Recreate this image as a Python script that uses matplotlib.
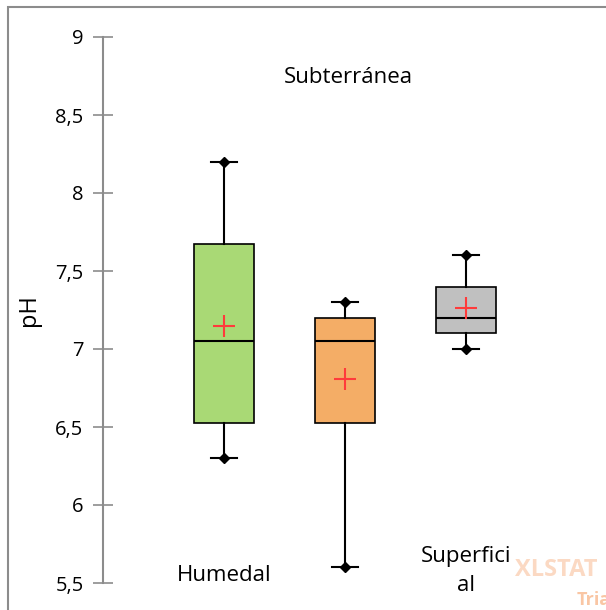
import matplotlib.pyplot as plt
from matplotlib.patches import Rectangle

# datos (pH por tipo de agua)
grupos = ["Humedal", "Subterránea", "Superficial"]
etiquetas = ["Humedal", "Subterránea", "Superfici\nal"]
minimos = [6.3, 5.6, 7.0]
q1 = [6.525, 6.525, 7.1]
medianas = [7.05, 7.05, 7.2]
q3 = [7.675, 7.2, 7.4]
maximos = [8.2, 7.3, 7.6]
medias = [7.15, 6.81, 7.26]
colores = ["#a9d975", "#f4ad66", "#c0c0c0"]

ticks_y = [5.5, 6, 6.5, 7, 7.5, 8, 8.5, 9]
ticks_txt = ["5,5", "6", "6,5", "7", "7,5", "8", "8,5", "9"]

plt.rcParams['font.family'] = ['Open Sans', 'DejaVu Sans']

fig = plt.figure(figsize=(6.06, 6.10), dpi=100)
ax = fig.add_axes([103 / 606, 27 / 610, 484 / 606, 546 / 610])

# borde gris del grafico
fig.patches.append(Rectangle((8 / 606, -0.05), 1.1, 603 / 610 + 0.05,
                             transform=fig.transFigure, fill=False,
                             edgecolor="#8c8c8c", linewidth=1.5))

stats = []
for i in range(len(grupos)):
    stats.append({"label": grupos[i], "whislo": minimos[i], "q1": q1[i],
                  "med": medianas[i], "q3": q3[i], "whishi": maximos[i],
                  "mean": medias[i]})

pos = [1, 2, 3]
bp = ax.bxp(stats, positions=pos, widths=0.5, patch_artist=True,
            showmeans=True, showfliers=False,
            boxprops=dict(edgecolor="black", linewidth=1.2),
            medianprops=dict(color="black", linewidth=1.5),
            whiskerprops=dict(color="black", linewidth=1.5),
            capprops=dict(color="black", linewidth=1.5),
            capwidths=0.21,
            meanprops=dict(marker="+", markersize=16, markeredgecolor="#ff3b3b",
                           markeredgewidth=1.5))
for caja, c in zip(bp["boxes"], colores):
    caja.set_facecolor(c)

# rombos en los extremos de los bigotes
ax.plot(pos, minimos, linestyle="none", marker="D", markersize=5, color="black")
ax.plot(pos, maximos, linestyle="none", marker="D", markersize=5, color="black")

ax.set_xlim(0, 4)
ax.set_ylim(5.5, 9)
ax.set_yticks(ticks_y)
ax.set_yticklabels(ticks_txt, fontsize=14.5)
ax.set_xticks([])
for s in ["top", "right", "bottom"]:
    ax.spines[s].set_visible(False)
ax.spines["left"].set_color("#8c8c8c")
ax.spines["left"].set_linewidth(1.5)
ax.tick_params(axis="y", direction="inout", length=14, width=1.2,
               color="#8c8c8c", pad=7)
ax.set_ylabel("pH", fontsize=17, labelpad=10)

# nombres de los grupos dentro del area
ax.text(1, 5.545, etiquetas[0], ha="center", va="center", fontsize=16)
ax.text(2.03, 8.74, etiquetas[1], ha="center", va="center", fontsize=16)
ax.text(3, 5.58, etiquetas[2], ha="center", va="center", fontsize=16,
        linespacing=1.5)

# marca de agua
fig.text(0.85, 0.055, "XLSTAT", fontsize=17, fontweight="bold",
         color="#fbd9c3")
fig.text(0.952, 0.008, "Trial", fontsize=13, fontweight="bold", color="#f9c6a4")

fig.savefig("out.png", dpi=100)
